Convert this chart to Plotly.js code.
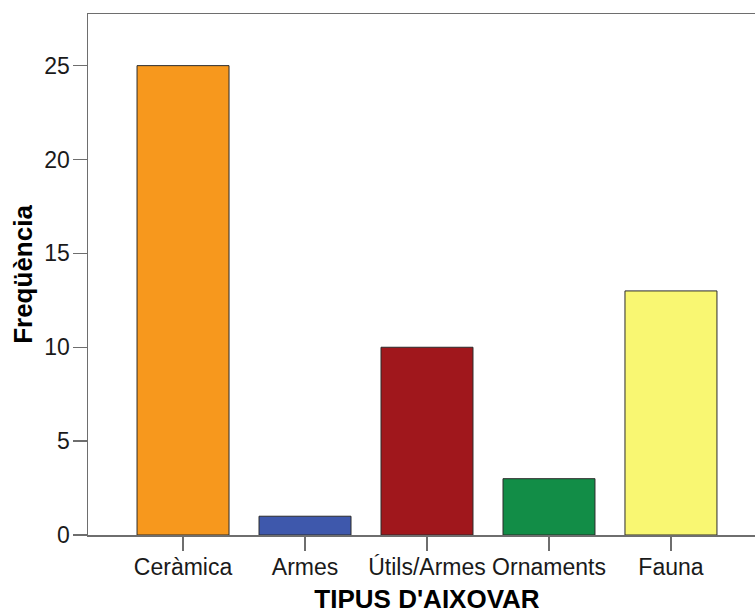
<!DOCTYPE html>
<html>
<head>
<meta charset="utf-8">
<script src="https://cdn.plot.ly/plotly-3.0.1.min.js"></script>
<style>
html, body { margin: 0; padding: 0; overflow: hidden; width: 755px; height: 614px; background: #fff; }
#chart { width: 766px; height: 614px; }
</style>
</head>
<body>
<div id="chart"></div>
<script>
const categories = ["Ceràmica", "Armes", "Útils/Armes", "Ornaments", "Fauna"];
const frequencies = [25, 1, 10, 3, 13];
const barColors = ["#F7981D", "#3E58AC", "#A0171C", "#128D47", "#F9F772"];
const yTicks = [0, 5, 10, 15, 20, 25];

const trace = {
  type: "bar",
  x: categories,
  y: frequencies,
  marker: { color: barColors, line: { color: "#2b2b2b", width: 1 } },
  hoverinfo: "x+y"
};

const layout = {
  width: 766,
  height: 614,
  margin: { l: 88, r: 0, t: 14, b: 78.5 },
  paper_bgcolor: "#ffffff",
  plot_bgcolor: "#ffffff",
  bargap: 0.246,
  showlegend: false,
  font: { family: "Liberation Sans, Arial, sans-serif", color: "#000" },
  xaxis: {
    type: "category",
    range: [-0.779, 4.779],
    showline: true,
    linecolor: "#6e6e6e",
    linewidth: 1.5,
    mirror: true,
    ticks: "outside",
    ticklen: 14,
    tickwidth: 1.5,
    tickcolor: "#6e6e6e",
    ticklabelstandoff: -3,
    tickfont: { size: 23, color: "#1a1a1a" },
    showgrid: false,
    zeroline: false,
    title: { text: "TIPUS D'AIXOVAR", font: { size: 26, color: "#000", family: "Liberation Sans, Arial, sans-serif", weight: "bold" }, standoff: 15 }
  },
  yaxis: {
    range: [0, 27.75],
    tickvals: yTicks,
    ticktext: yTicks.map(String),
    showline: true,
    linecolor: "#6e6e6e",
    linewidth: 1.5,
    mirror: false,
    ticks: "outside",
    ticklen: 14,
    tickwidth: 1.5,
    tickcolor: "#6e6e6e",
    ticklabelstandoff: -2,
    tickfont: { size: 23, color: "#1a1a1a" },
    showgrid: false,
    zeroline: false,
    title: { text: "Freqüència", font: { size: 26, color: "#000", family: "Liberation Sans, Arial, sans-serif", weight: "bold" }, standoff: 4 }
  }
};

Plotly.newPlot("chart", [trace], layout, { displayModeBar: false, staticPlot: true });
</script>
</body>
</html>
